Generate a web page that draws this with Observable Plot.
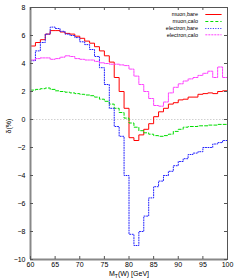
<!DOCTYPE html>
<html><head><meta charset="utf-8">
<script src="https://cdn.jsdelivr.net/npm/d3@7"></script>
<script src="https://cdn.jsdelivr.net/npm/@observablehq/plot@0.6"></script>
<style>body{margin:0;background:#fff} svg{display:block}</style>
</head><body><div id="chart"></div>
<script>
const binEdges = [60,61,62,63,64,65,66,67,68,69,70,71,72,73,74,75,76,77,78,79,80,81,82,83,84,85,86,87,88,89,90,91,92,93,94,95,96,97,98,99];
const xMax = 100;
const muonBare = [5.25,5.5,5.7,6.1,6.35,6.35,6.25,6.15,6.1,5.95,5.8,5.6,5.45,5.2,4.9,4.55,4.1,3.0,2.0,0.8,-1.3,-1.5,-1.1,-0.7,-0.3,0.2,0.55,0.8,1.1,1.2,1.4,1.45,1.6,1.6,1.8,1.85,1.9,1.85,2.0,2.05];
const muonCalo = [2.1,2.15,2.2,2.25,2.15,2.05,2.0,1.95,1.9,1.85,1.8,1.75,1.7,1.6,1.45,1.3,1.1,0.8,0.5,0.1,-0.25,-0.55,-0.8,-0.95,-1.05,-1.15,-1.2,-1.15,-1.05,-0.85,-0.7,-0.55,-0.5,-0.5,-0.45,-0.45,-0.4,-0.4,-0.35,-0.35];
const electronBare = [4.2,4.9,5.5,6.1,6.6,6.5,6.3,6.1,6.0,5.85,5.55,5.35,5.0,4.5,3.7,2.5,0.8,-0.5,-1.2,-4.0,-8.2,-9.0,-8.0,-6.9,-5.6,-4.8,-4.4,-4.0,-3.7,-3.3,-3.0,-2.8,-2.5,-2.4,-2.3,-2.0,-2.0,-1.75,-1.65,-1.5];
const electronCalo = [4.25,4.35,4.4,4.4,4.3,4.35,4.45,4.55,4.5,4.35,4.3,4.25,4.25,4.15,4.05,4.0,3.95,3.95,3.9,3.85,3.6,3.1,2.5,2.0,1.5,1.0,0.95,1.25,1.9,2.3,2.55,2.75,2.9,3.0,3.15,3.3,3.45,3.0,3.75,3.0];
const seriesNames = ["muon,bare","muon,calo","electron,bare","electron,calo"];
const seriesValues = [muonBare, muonCalo, electronBare, electronCalo];
const seriesColors = ["#ff0000","#00dd00","#2020ff","#ff40ff"];
const seriesDash = ["none","3,2","1,1.5","2,1"];
const xTicks = [60,65,70,75,80,85,90,95,100];
const yTicks = [-10,-8,-6,-4,-2,0,2,4,6,8];
const xLabel = "M_T(W) [GeV]";
const yLabel = "δ(%)";

function steps(vals){
  const pts = binEdges.map((x,i)=>({x, y: vals[i]}));
  pts.push({x: xMax, y: vals[vals.length-1]});
  return pts;
}

const marks = [
  Plot.ruleY([0], {stroke:"#d0d0d0", strokeDasharray:"1.5,1.5"}),
];
seriesValues.forEach((v,i)=>{
  marks.push(Plot.line(steps(v), {x:"x", y:"y", curve:"step-after", stroke:seriesColors[i], strokeWidth:1, strokeDasharray:seriesDash[i]}));
});
// legend
seriesNames.forEach((n,i)=>{
  const ly = [7.5,7.0,6.5,6.05][i];
  marks.push(Plot.text([n], {x:94, y:ly, text:d=>d, textAnchor:"end", fontSize:5.5, fill:"#000"}));
  marks.push(Plot.link([n], {x1:95.5, x2:98.8, y1:ly, y2:ly, stroke:seriesColors[i], strokeWidth:1, strokeDasharray:seriesDash[i]}));
});
marks.push(
  Plot.frame({stroke:"#555"}),
  Plot.ruleX([60], {stroke:"#888", strokeWidth:2}),
  Plot.ruleY([-10], {stroke:"#888", strokeWidth:2}),
  Plot.tickY(yTicks, {y:d=>d, insetRight:194, stroke:"#555"}),
  Plot.tickY(yTicks, {y:d=>d, insetLeft:194, stroke:"#555"}),
  Plot.tickX(xTicks, {x:d=>d, insetTop:249, stroke:"#555"}),
  Plot.tickX(xTicks, {x:d=>d, insetBottom:249, stroke:"#555"}),
  Plot.axisY(yTicks, {anchor:"left", tickSize:0, tickPadding:5, fontSize:7, label:null}),
  Plot.axisX(xTicks, {anchor:"bottom", tickSize:0, tickPadding:3, fontSize:7, label:null}),
  Plot.text([yLabel], {frameAnchor:"left", dx:-22, rotate:-90, text:d=>d, fontSize:7, fill:"#000"}),
  Plot.text([xLabel], {frameAnchor:"bottom", dy:16.5, text:d=>d, fontSize:7, fill:"#000", className:"xlab"})
);

const chart = Plot.plot({
  width:240, height:280,
  marginLeft:30, marginRight:13, marginTop:7, marginBottom:21,
  style:{fontFamily:"'Liberation Sans', Arial, sans-serif", background:"#fff", color:"#000"},
  x:{domain:[60,100]},
  y:{domain:[-10,8]},
  marks
});
document.getElementById("chart").appendChild(chart);
// subscript in x label
const xl = chart.querySelector(".xlab text");
if (xl) {
  xl.textContent = "";
  const ns = "http://www.w3.org/2000/svg";
  const a = document.createElementNS(ns,"tspan"); a.textContent = "M";
  const b = document.createElementNS(ns,"tspan"); b.textContent = "T"; b.setAttribute("font-size","5"); b.setAttribute("dy","1.5");
  const c = document.createElementNS(ns,"tspan"); c.textContent = "(W) [GeV]"; c.setAttribute("dy","-1.5");
  xl.append(a,b,c);
}
</script>
</body></html>
